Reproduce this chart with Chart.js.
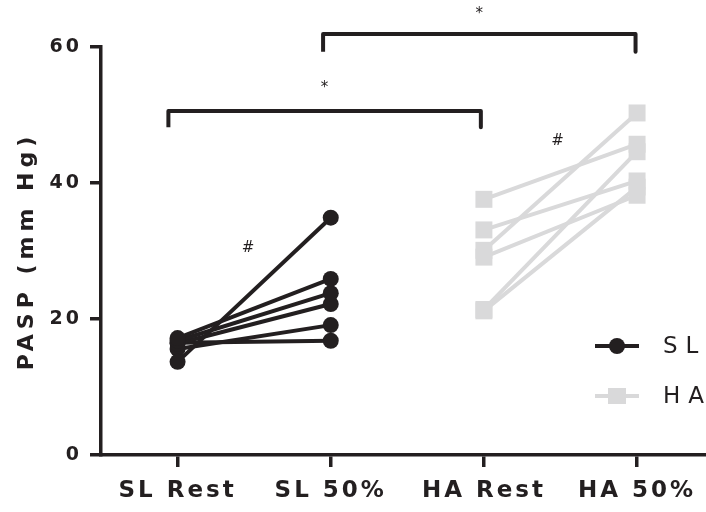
<!DOCTYPE html>
<html>
<head>
<meta charset="utf-8">
<title>PASP</title>
<script src="https://cdn.jsdelivr.net/npm/chart.js@4"></script>
<style>
  html, body { margin: 0; padding: 0; background: #fff; }
  #wrap { width: 706px; height: 512px; }
</style>
</head>
<body>
<div id="wrap"><canvas id="c" width="706" height="512"></canvas></div>
<script>
// ==================== DATA ====================
const categories = ['SL Rest', 'SL 50%', 'HA Rest', 'HA 50%'];
const slRest = [13.7, 17.2, 16.8, 16.4, 15.6, 16.5];
const sl50   = [34.9, 25.9, 23.8, 22.2, 19.1, 16.8];
const haRest = [37.6, 33.1, 30.1, 29.1, 21.4, 21.2];
const ha50   = [45.7, 40.3, 50.3, 38.2, 44.6, 39.4];
const yTicks = [0, 20, 40, 60];
const seriesNames = ['SL', 'HA'];
// significance brackets: x from, x to, bar y, foot y (data units)
const bracketFrom = [-0.06, 0.95];
const bracketTo   = [1.98, 2.99];
const bracketTop  = [50.6, 61.9];
const bracketFoot = [48.2, 59.3];
// marks over the plot: text, x, y (data units)
const markText = ['*', '*', '#', '#'];
const markX    = [0.96, 1.97, 0.46, 2.48];
const markY    = [54.0, 64.9, 30.4, 46.2];

const DARK = '#231f20';
const GRAY = '#d9d9da';

// ==================== DATASETS ====================
const datasets = [];
slRest.forEach((v, i) => datasets.push({
  data: [{ x: 0, y: v }, { x: 1, y: sl50[i] }],
  borderColor: DARK, backgroundColor: DARK, borderWidth: 4,
  pointRadius: 8, pointBorderWidth: 0, pointStyle: 'circle'
}));
haRest.forEach((v, i) => datasets.push({
  data: [{ x: 2, y: v }, { x: 3, y: ha50[i] }],
  borderColor: GRAY, backgroundColor: GRAY, borderWidth: 4,
  pointRadius: 12, pointBorderWidth: 0, pointStyle: 'rect'
}));
bracketFrom.forEach((x0, i) => datasets.push({
  data: [
    { x: x0, y: bracketFoot[i] }, { x: x0, y: bracketTop[i] },
    { x: bracketTo[i], y: bracketTop[i] }, { x: bracketTo[i], y: bracketFoot[i] }
  ],
  borderColor: DARK, borderWidth: 4, pointRadius: 0,
  borderJoinStyle: 'round', borderCapStyle: 'butt', clip: false
}));

// ==================== EXTRAS ====================
const extras = {
  id: 'extras',
  beforeUpdate(c) { c.ctx.letterSpacing = '3px'; },
  beforeDraw(c) { c.ctx.letterSpacing = '3px'; },
  afterDraw(c) {
    const ctx = c.ctx, xs = c.scales.x, ys = c.scales.y;
    ctx.save();

    // marks (* and #)
    ctx.letterSpacing = '0px';
    ctx.fillStyle = DARK;
    ctx.font = '15px "DejaVu Sans"';
    ctx.textAlign = 'center';
    ctx.textBaseline = 'middle';
    markText.forEach((t, i) => ctx.fillText(t, xs.getPixelForValue(markX[i]), ys.getPixelForValue(markY[i])));

    // y title
    ctx.save();
    ctx.translate(27, (ys.top + ys.bottom) / 2);
    ctx.rotate(-Math.PI / 2);
    ctx.font = 'bold 22px "DejaVu Sans"';
    ctx.letterSpacing = '5px';
    ctx.fillText('PASP (mm Hg)', 0, 0);
    ctx.restore();

    // legend
    const colors = [DARK, GRAY];
    const rowY = [346, 396];
    seriesNames.forEach((name, i) => {
      const y = rowY[i];
      ctx.strokeStyle = colors[i];
      ctx.fillStyle = colors[i];
      ctx.lineWidth = 4;
      ctx.beginPath();
      ctx.moveTo(595, y); ctx.lineTo(639, y);
      ctx.stroke();
      if (i === 0) {
        ctx.beginPath(); ctx.arc(617, y, 8, 0, Math.PI * 2); ctx.fill();
      } else {
        ctx.fillRect(608, y - 8, 18, 16);
      }
      ctx.fillStyle = DARK;
      ctx.font = '23px "DejaVu Sans"';
      ctx.letterSpacing = '8px';
      ctx.textAlign = 'left';
      ctx.fillText(name, 663, y + 1);
    });
    ctx.restore();
  }
};

// ==================== CHART ====================
new Chart(document.getElementById('c'), {
  type: 'line',
  data: { datasets },
  plugins: [extras],
  options: {
    responsive: false,
    animation: false,
    events: [],
    layout: { autoPadding: false, padding: { top: 47, right: 0, left: 0, bottom: 0 } },
    plugins: { legend: { display: false }, tooltip: { enabled: false } },
    scales: {
      x: {
        type: 'linear', min: -0.5, max: 3.45,
        afterBuildTicks: s => { s.ticks = categories.map((_, i) => ({ value: i })); },
        afterFit: s => { s.height = 57; s.paddingLeft = 0; s.paddingRight = 0; },
        grid: { drawOnChartArea: false, drawTicks: true, tickLength: 12, color: DARK, lineWidth: 3.5 },
        border: { display: true, color: DARK, width: 3.5 },
        ticks: {
          autoSkip: false, maxRotation: 0, padding: 10, color: DARK,
          font: { family: 'DejaVu Sans', size: 23, weight: 'bold' },
          callback: v => categories[v]
        }
      },
      y: {
        min: 0, max: 60,
        afterBuildTicks: s => { s.ticks = yTicks.map(v => ({ value: v })); },
        afterFit: s => { s.width = 101; s.paddingTop = 0; s.paddingBottom = 0; },
        grid: { drawOnChartArea: false, drawTicks: true, tickLength: 11, color: DARK, lineWidth: 3.5 },
        border: { display: true, color: DARK, width: 3.5 },
        ticks: {
          padding: 8, color: DARK,
          font: { family: 'DejaVu Sans', size: 19, weight: 'bold' }
        }
      }
    }
  }
});
</script>
</body>
</html>
